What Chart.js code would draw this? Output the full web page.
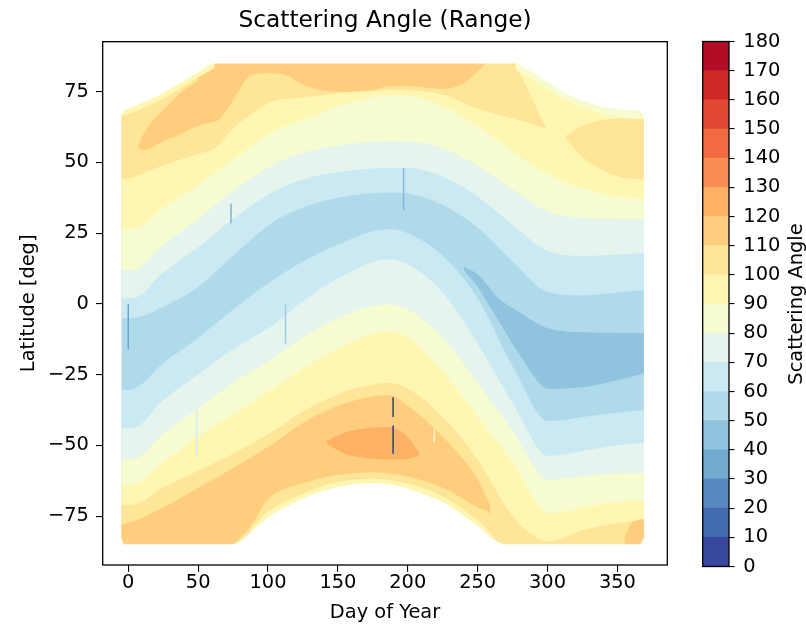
<!DOCTYPE html>
<html>
<head>
<meta charset="utf-8">
<title>Scattering Angle (Range)</title>
<script src="https://cdn.jsdelivr.net/npm/chart.js@4.4.1/dist/chart.umd.min.js"></script>
<style>
  html, body { margin: 0; padding: 0; background: #fff; }
  #wrap { position: relative; width: 806px; height: 630px; }
  #mapChart { position: absolute; left: 0; top: 0; }
  #barChart { position: absolute; left: 690px; top: 0; }
</style>
</head>
<body>
<div id="wrap">
  <canvas id="mapChart" width="806" height="630"></canvas>
  <canvas id="barChart" width="116" height="630"></canvas>
</div>
<script>
// colour levels (deg) and the colour of each 10 deg band
const levels = [0, 10, 20, 30, 40, 50, 60, 70, 80, 90, 100, 110, 120, 130, 140, 150, 160, 170, 180];
const levelColors = ['#37489e', '#426aaf', '#578bbf', '#71aacf', '#90c3dd', '#aedaea', '#cbe9f2', '#e5f5ee', '#f6fccf',
                     '#fff6b2', '#fee598', '#fecd7e', '#fdb164', '#f98e52', '#f26a41', '#e24832', '#cf2827', '#b30d26'];

const xTicks = [0, 50, 100, 150, 200, 250, 300, 350];
const yTicks = [-75, -50, -25, 0, 25, 50, 75];

// outline of the sampled region
const topDays = [-5, -3, 0, 12, 25, 37, 50, 62, 75, 100, 150, 200, 250, 277, 287, 300, 313, 325, 337, 350, 360, 366, 369];
const topEdge = [66.5, 68.3, 69, 71.5, 74.5, 78, 81.8, 85, 85, 85, 85, 85, 85, 85, 82.5, 78.5, 74.5, 72, 70, 68.8, 68.5, 68.3, 66.5];
const bottomDays = [-5, -3, 25, 50, 75, 87, 100, 112, 125, 137, 150, 162, 175, 187, 200, 212, 225, 237, 250, 262, 270, 300, 366, 369];
const bottomEdge = [-83, -85, -85, -85, -85, -81, -75.5, -72, -68.8, -66.5, -64.7, -63.7, -63.4, -63.8, -65.3, -67.5, -70, -73.8, -78.5, -83.5, -85, -85, -85, -83];

// latitude where each contour crosses, north and south of the low-angle valley
const days = [-5, 3, 25, 50, 75, 103, 125, 150, 186, 200, 225, 250, 275, 301, 325, 350, 369];
const north60 = [-5, -5, -1, 6, 17, 28.7, 34, 37.5, 39.4, 39, 35, 27, 15, 4, 3, 4, 5];
const north70 = [2, 2, 11, 20, 30, 39.4, 44, 46.5, 48, 48, 45, 38, 28, 18.5, 17, 17.5, 18];
const north80 = [12, 12, 21, 30, 40, 49, 53.5, 56, 57.6, 57.5, 55, 49, 40.5, 32.5, 30.5, 30, 30];
const north90 = [26.5, 26.5, 34, 42, 51, 60.8, 65, 70, 73.6, 73.5, 70, 63, 54, 45.8, 41, 38, 37];
const south60 = [-30.5, -30.2, -21, -12, -2, 8.3, 15, 21, 26.5, 25, 17, 2, -22, -41.5, -40, -38.5, -37.4];
const south70 = [-44, -44, -34, -25, -16, -7.7, 1, 9, 15.8, 14, 4, -14, -35, -53.8, -52, -50, -49.2];
const south80 = [-55, -55, -46, -37, -28, -19.5, -12, -5, -0.2, -2, -12, -28, -45, -62.3, -61, -60, -59.8];
const south90 = [-64, -64, -56, -47, -39, -30.2, -23, -16, -9.8, -12, -24, -40, -56, -74.1, -72, -70, -69.3];
const south100 = [-71, -71, -65, -59, -53, -45.2, -38, -32, -28, -30, -40, -55, -75, -84, -80, -77.5, -76.3];

const n100Days = [-5, 3, 25, 50, 62, 75, 103, 125, 150, 186, 200, 225, 250, 275, 299];
const north100 = [44, 44.8, 49, 53, 55, 62, 71.5, 73, 74.5, 75.5, 75.5, 74, 69, 65.5, 62];
const n110Days = [50, 62, 75, 87, 100, 112, 125, 150, 175, 186, 200, 225, 240, 255];
const north110 = [72, 64.5, 72, 80.5, 81.5, 81, 77.5, 75, 75.5, 76.9, 77, 76, 78, 84.5];
const s110Days = [-5, 3, 25, 50, 75, 103, 125, 150, 186, 200, 225, 250, 259];
const south110 = [-78, -77, -72, -65, -58, -49.5, -42, -36, -32.3, -36, -47, -62, -71];

// closed patches
const westDays = [7, 12, 25, 37, 50, 62];
const westUpper = [56, 61, 68.5, 74.5, 79, 83];
const westLower = [55, 54.5, 57.5, 60, 63, 64.5];
const southPeakDays = [142, 155, 170, 186, 198, 208];
const southPeakUpper = [-48.5, -45.5, -44, -43.5, -46, -52.5];
const southPeakLower = [-49.5, -53, -54.5, -55, -55, -53.5];
const lowDays = [240, 250, 265, 280, 301, 325, 350, 369];
const lowUpper = [13, 10.5, 2, -3, -8.7, -10, -10.2, -10.4];
const lowLower = [12, 6, -6, -18, -30, -29.5, -27, -24.5];
const blobDays = [313, 325, 340, 355, 369];
const blobUpper = [59.5, 63, 65, 65.5, 65.5];
const blobLower = [58.5, 52, 47, 44.5, 44];

// thin edges along the outline
const tongueDays = [277, 288, 299];
const tongueEdge = [85, 73.5, 62];
const rimDays = [75, 87, 100, 125, 150, 175, 200, 225, 250, 259, 268];
const rimEdge = [-85, -79, -69, -63.5, -60.5, -59.5, -61, -65, -72, -74.5, -85];
const innerRimDays = [87, 100, 125, 150, 175, 200, 225, 250, 262];
const innerRim = [-80, -73.5, -67, -63, -61.8, -63.5, -68, -76.5, -82.5];
const cornerDays = [355, 360, 369];
const cornerEdge = [-83, -77.5, -76];
const westStripDays = [-5, 0, 12, 25, 37, 50, 62];
const westStrip = [66.5, 67, 69.5, 72.5, 76, 80, 83.5];
const eastStripDays = [277, 287, 300, 313, 325, 337, 350, 360, 369];
const eastStrip = [83, 80, 76, 72, 69.5, 67.5, 66, 65.5, 65.3];

// single bad columns in the data
const streakDays = [0, 73.5, 112.5, 197, 189.5, 189.5, 49, 219];
const streakTop = [0, 35.5, 0, 48, -33, -43, -37.5, -44.5];
const streakBottom = [-16, 28.5, -14, 33, -40, -53, -54, -49];
const streakColors = ['#6fa3cc', '#7fb2d6', '#9fcbe2', '#86b8d8', '#2e3f7a', '#2e3f7a', '#d6ecf2', '#fbf6d0'];

const xMin = -18.3, xMax = 385.7, yMin = -92.3, yMax = 92.7;

Chart.defaults.font.family = "'DejaVu Sans', sans-serif";
Chart.defaults.font.size = 19.4;
Chart.defaults.color = '#000';

const fmt = v => (v < 0 ? '\u2212' + Math.abs(v) : String(v));
const band = lv => levelColors[levels.indexOf(lv)];

const datasets = [];
let paint = 0;

function pts(xs, ys) {
  return xs.map((x, i) => ({ x: x, y: ys[i] }));
}
// every call is painted on top of the previous ones
function line(data, extra) {
  datasets.push(Object.assign({
    data: data,
    borderColor: 'rgba(0,0,0,0)',
    borderWidth: 0,
    pointRadius: 0,
    cubicInterpolationMode: 'monotone',
    fill: false,
    order: 1000 - paint++
  }, extra));
}
// area between a curve and the top ('end') or bottom ('start') of the plot
function sheet(xs, ys, color, side) {
  line(pts(xs, ys), { fill: side, backgroundColor: color });
}
// area between two curves
function patch(xs, upper, lower, color) {
  line(pts(xs, upper));
  line(pts(xs, lower), { fill: '-1', backgroundColor: color });
}
// white cover outside an outline, run out flat to both sides of the axes
function mask(xs, ys, side) {
  const data = pts(xs, ys);
  data.unshift({ x: xMin, y: ys[0] });
  data.push({ x: xMax, y: ys[ys.length - 1] });
  line(data, { fill: side, backgroundColor: '#ffffff' });
}

sheet([days[0], days[days.length - 1]], [yMax, yMax], band(50), 'start');
sheet(days, north60, band(60), 'end');
sheet(days, north70, band(70), 'end');
sheet(days, north80, band(80), 'end');
sheet(days, north90, band(90), 'end');
sheet(n100Days, north100, band(100), 'end');
sheet(n110Days, north110, band(110), 'end');
patch(westDays, westUpper, westLower, band(110));
sheet(days, south60, band(60), 'start');
sheet(days, south70, band(70), 'start');
sheet(days, south80, band(80), 'start');
sheet(days, south90, band(90), 'start');
sheet(days, south100, band(100), 'start');
sheet(s110Days, south110, band(110), 'start');
patch(southPeakDays, southPeakUpper, southPeakLower, band(120));
sheet(rimDays, rimEdge, band(100), 'start');
sheet(innerRimDays, innerRim, band(90), 'start');
patch(lowDays, lowUpper, lowLower, band(40));
sheet(tongueDays, tongueEdge, band(90), 'end');
patch(blobDays, blobUpper, blobLower, band(100));
sheet(cornerDays, cornerEdge, band(110), 'start');
sheet(westStripDays, westStrip, band(90), 'end');
sheet(eastStripDays, eastStrip, band(80), 'end');
mask(topDays, topEdge, 'end');
mask(bottomDays, bottomEdge, 'start');

streakDays.forEach((d, i) => {
  datasets.push({
    data: [{ x: d, y: streakTop[i] }, { x: d, y: streakBottom[i] }],
    borderColor: streakColors[i],
    borderWidth: 1.5,
    pointRadius: 0,
    fill: false,
    order: -1
  });
});

const frame = {
  id: 'frame',
  afterDraw(chart) {
    const { ctx, chartArea: a } = chart;
    ctx.save();
    ctx.strokeStyle = '#000';
    ctx.lineWidth = 1.3;
    ctx.strokeRect(a.left, a.top, a.right - a.left, a.bottom - a.top);
    ctx.restore();
  }
};

new Chart(document.getElementById('mapChart'), {
  type: 'line',
  data: { datasets: datasets },
  options: {
    responsive: false,
    animation: false,
    events: [],
    layout: { padding: { left: 0, right: 138.7, top: 0, bottom: 0 } },
    plugins: {
      legend: { display: false },
      tooltip: { enabled: false },
      title: {
        display: true,
        text: 'Scattering Angle (Range)',
        fullSize: false,
        color: '#000',
        font: { size: 23.3, weight: 'normal' },
        padding: { top: 7, bottom: 6.7 }
      }
    },
    scales: {
      x: {
        type: 'linear',
        min: xMin,
        max: xMax,
        afterBuildTicks: s => { s.ticks = xTicks.map(v => ({ value: v })); },
        afterFit: s => { s.height = 65; },
        ticks: { padding: 0, autoSkip: false, maxRotation: 0, callback: v => fmt(v) },
        grid: { drawOnChartArea: false, tickLength: 6.8, color: '#000', lineWidth: 1.1 },
        border: { display: false },
        title: { display: true, text: 'Day of Year', padding: { top: 0, bottom: 5 } }
      },
      y: {
        type: 'linear',
        min: yMin,
        max: yMax,
        afterBuildTicks: s => { s.ticks = yTicks.map(v => ({ value: v })); },
        afterFit: s => { s.width = 102.7; },
        ticks: { padding: 7, autoSkip: false, callback: v => fmt(v) },
        grid: { drawOnChartArea: false, tickLength: 6.8, color: '#000', lineWidth: 1.1 },
        border: { display: false },
        title: { display: true, text: 'Latitude [deg]', padding: { top: 17, bottom: 0 } }
      }
    }
  },
  plugins: [frame]
});

// colour bar
const barLabel = {
  id: 'barLabel',
  afterDraw(chart) {
    const ctx = chart.ctx;
    ctx.save();
    ctx.translate(107, 304);
    ctx.rotate(-Math.PI / 2);
    ctx.fillStyle = '#000';
    ctx.font = "19.4px 'DejaVu Sans', sans-serif";
    ctx.textAlign = 'center';
    ctx.textBaseline = 'middle';
    ctx.fillText('Scattering Angle', 0, 0);
    ctx.restore();
  }
};

new Chart(document.getElementById('barChart'), {
  type: 'bar',
  data: {
    labels: [''],
    datasets: levelColors.map((col, i) => ({
      data: [[levels[i], levels[i + 1]]],
      backgroundColor: col,
      borderWidth: 0,
      grouped: false,
      barPercentage: 1,
      categoryPercentage: 1
    }))
  },
  options: {
    responsive: false,
    animation: false,
    events: [],
    layout: { padding: { left: 12.7, top: 41.5, bottom: 63.5, right: 0 } },
    plugins: { legend: { display: false }, tooltip: { enabled: false } },
    scales: {
      x: { display: false },
      y: {
        position: 'right',
        min: levels[0],
        max: levels[levels.length - 1],
        afterBuildTicks: s => { s.ticks = levels.map(v => ({ value: v })); },
        afterFit: s => { s.width = 77; },
        ticks: { padding: 8.8, autoSkip: false, callback: v => String(v) },
        grid: { drawOnChartArea: false, tickLength: 5.5, color: '#000', lineWidth: 1.1 },
        border: { display: false }
      }
    }
  },
  plugins: [frame, barLabel]
});
</script>
</body>
</html>
